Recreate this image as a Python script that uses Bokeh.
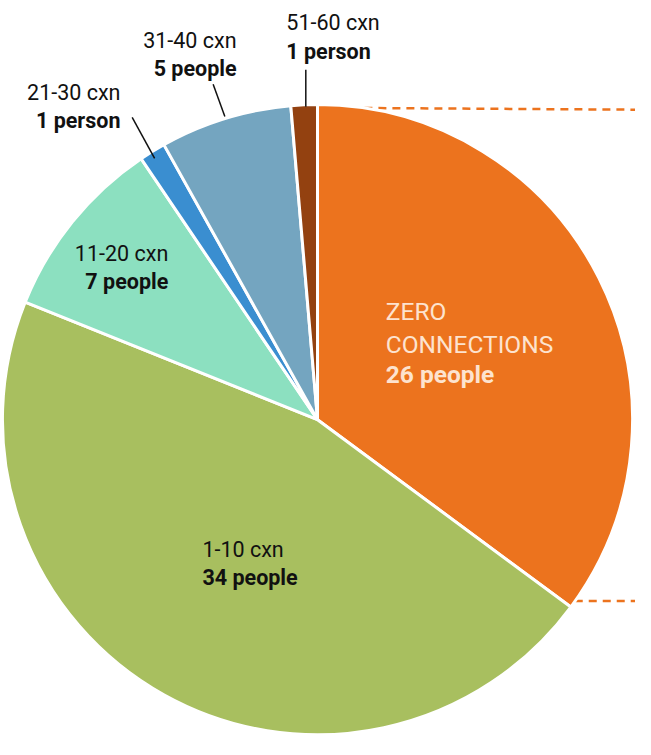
import numpy as np
from bokeh.plotting import figure
from bokeh.models import Range1d, ColumnDataSource
from bokeh.core.properties import value
from bokeh.embed import file_html
from bokeh.resources import INLINE

# ---- data ----
categories = ["ZERO CONNECTIONS", "1-10 cxn", "11-20 cxn", "21-30 cxn", "31-40 cxn", "51-60 cxn"]
people = [26, 34, 7, 1, 5, 1]
count_labels = ["26 people", "34 people", "7 people", "1 person", "5 people", "1 person"]
colors = ["#EC731E", "#A8BF5F", "#8CE0C0", "#3A8ED0", "#74A5C0", "#934110"]

# ---- layout (reference pixel frame) ----
W, H = 651, 755
cx, cy, R = 325, H - 430, 323
FONT = "Roboto"

total = float(sum(people))
cum = np.cumsum([0] + people)
start = np.pi / 2 - 2 * np.pi * cum[:-1] / total
end = np.pi / 2 - 2 * np.pi * cum[1:] / total

src = ColumnDataSource(dict(cat=categories, n=people, color=colors,
                            start=start, end=end))

p = figure(width=635, height=736, output_backend="svg", toolbar_location=None,
           x_range=Range1d(0, W), y_range=Range1d(0, H), min_border=0)
p.axis.visible = False
p.grid.visible = False
p.outline_line_color = None
p.background_fill_color = "white"

# dashed guide lines (behind pie)
p.segment(x0=[330, 560], y0=[H - 110, H - 616], x1=[651, 651], y1=[H - 112, H - 616],
          line_color="#EC731E", line_width=2.5, line_dash="8 6")

p.wedge(x=cx, y=cy, radius=R, start_angle="start", end_angle="end",
        direction="clock", fill_color="color", line_color="white",
        line_width=3, source=src)

# leader lines
p.segment(x0=[313, 218, 135], y0=[H - 71, H - 86, H - 120],
          x1=[313, 230, 158], y1=[H - 109, H - 119, H - 162],
          line_color="#111111", line_width=1.5)

# label placement: (x, baseline1, baseline2, align)
place = {
    "1-10 cxn": (207, 563, 592, "left"),
    "11-20 cxn": (172, 260, 288, "right"),
    "21-30 cxn": (123, 94, 123, "right"),
    "31-40 cxn": (242, 41, 70, "right"),
    "51-60 cxn": (293, 23, 52, "left"),
}
for cat, lab in zip(categories, count_labels):
    if cat in place:
        x, b1, b2, al = place[cat]
        p.text(x=[x], y=[H - b1], text=[cat], text_font=value(FONT),
               text_font_size="21.5px", text_color="#111111",
               text_align=al, text_baseline="alphabetic")
        p.text(x=[x], y=[H - b2], text=[lab], text_font=value(FONT),
               text_font_size="21.5px", text_font_style="bold",
               text_color="#111111", text_align=al, text_baseline="alphabetic")

# zero-connections label inside the slice
zparts = categories[0].split(" ")
p.text(x=[395, 395], y=[H - 319, H - 353], text=zparts, text_font=value(FONT),
       text_font_size="24.5px", text_color="#FDE3CF",
       text_align="left", text_baseline="alphabetic")
p.text(x=[395], y=[H - 384], text=[count_labels[0]], text_font=value(FONT),
       text_font_size="24.5px", text_font_style="bold", text_color="#FDE3CF",
       text_align="left", text_baseline="alphabetic")

open("out.html", "w").write(file_html(p, INLINE))
